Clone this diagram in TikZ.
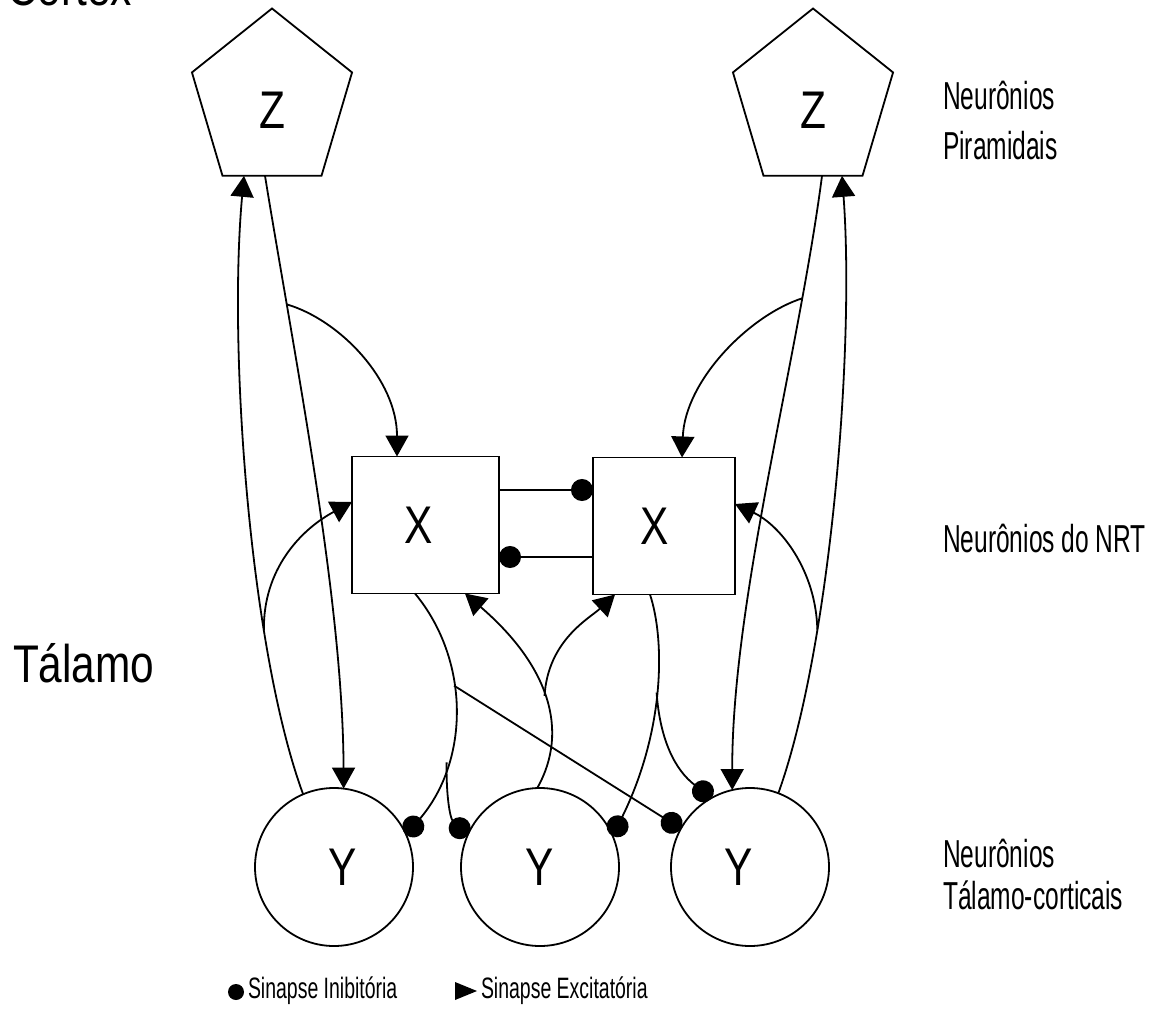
\documentclass[tikz,border=0pt]{standalone}
\usepackage{fontspec}
\setmainfont{Liberation Sans}
\newfontfamily\bigsans[FakeStretch=0.8]{Liberation Sans}
\newfontfamily\zsans[FakeStretch=0.88]{Liberation Sans}
\newfontfamily\narrowsans[FakeStretch=0.63]{Liberation Sans}
\newfontfamily\keysans[FakeStretch=0.66]{Liberation Sans}
\usetikzlibrary{arrows.meta,shapes.geometric,calc}

\begin{document}
\begin{tikzpicture}[x=1pt, y=-1pt, line width=1.8pt,
  every node/.style={inner sep=0pt, outer sep=0pt},
  pyr/.style={draw, regular polygon, regular polygon sides=5, minimum size=185pt,
    font=\zsans\fontsize{53}{60}\selectfont},
  nrt/.style={draw, rectangle, minimum height=137pt,
    font=\bigsans\fontsize{53}{60}\selectfont},
  tc/.style={draw, circle, minimum size=158pt,
    font=\bigsans\fontsize{53}{60}\selectfont},
  exc/.style={-{Triangle[length=21pt,width=23pt]}},
  inh/.style={-{Circle[length=22pt]}},
  lab/.style={anchor=base west, font=\narrowsans\fontsize{39}{50}\selectfont},
  big/.style={anchor=base west, font=\bigsans\fontsize{53}{60}\selectfont},
  key/.style={anchor=base west, font=\keysans\fontsize{29.5}{32}\selectfont}]

\useasboundingbox (0,0) rectangle (1156,1030);

% pyramidal neurons (cortex)
\begin{scope}[shift={(272,101)}, xscale=0.91]
  \node[pyr, transform shape] (ZL) at (0,0) {\raisebox{-9pt}[38pt][0pt]{Z}};
\end{scope}
\begin{scope}[shift={(813,101)}, xscale=0.91]
  \node[pyr, transform shape] (ZR) at (0,0) {\raisebox{-9pt}[38pt][0pt]{Z}};
\end{scope}

% NRT neurons
\node[nrt, minimum width=147pt] (XL) at (425.5,525) {\hspace*{-14pt}X};
\node[nrt, minimum width=142pt] (XR) at (664,526) {\hspace*{-18pt}X};

% thalamo-cortical neurons
\node[tc] (Yl) at (334,867) {\hspace*{18pt}Y};
\node[tc] (Ym) at (540,867) {Y};
\node[tc] (Yr) at (750,867) {\hspace*{-22pt}Y};

% side labels
\node[big] (lcortex) at (7,6) {Cortex};
\node[big] (ltalamo) at (13,682) {Tálamo};
\node[lab] (lpir) at (943,110) {\vtop{\hbox{Neurônios}\hbox{Piramidais}}};
\node[lab] (lnrt) at (943,552) {Neurônios do NRT};
\node[lab, font=\narrowsans\fontsize{39}{42}\selectfont] (ltc) at (943,867)
  {\vtop{\hbox{Neurônios}\hbox{Tálamo-corticais}}};

% left column
\draw[exc] (Yl.113) .. controls (250,650) and (228,350) .. ([xshift=-28pt]ZL.south)
  coordinate[pos=0.3] (bl1);
\draw[exc] (bl1) .. controls (263,570) and (300,530) .. ([yshift=23pt]XL.west);
\draw[exc] ([xshift=-7pt]ZL.south) .. controls (295,360) and (343,600) .. (Yl.83)
  coordinate[pos=0.22] (bl2);
\draw[exc] (bl2) .. controls (340,320) and (397,380) .. ([xshift=-28.5pt]XL.north);

% left NRT inhibition
\draw[inh] ([xshift=-10.5pt]XL.south) .. controls (470,660) and (470,760) .. (Yl.24)
  coordinate[pos=0.4] (bx1) coordinate[pos=0.7] (bx2);
\draw[inh] (bx2) .. controls (446,795) and (450,818) .. (Ym.157);
\draw[inh] (bx1) -- (Yr.151);

% middle thalamo-cortical excitation
\draw[exc] (Ym.92) .. controls (570,730) and (548,665) .. ([xshift=39.5pt]XL.south)
  coordinate[pos=0.5] (bm);
\draw[exc] (bm) .. controls (548,640) and (590,618) .. ([xshift=-49pt]XR.south);

% right NRT inhibition
\draw[inh] ([xshift=-14pt]XR.south) .. controls (665,640) and (665,730) .. (Ym.23)
  coordinate[pos=0.5] (bx3);
\draw[inh] (bx3) .. controls (660,740) and (675,770) .. (Yr.119);

% right column
\draw[exc] ([xshift=9pt]ZR.south) .. controls (798,360) and (732,600) .. (Yr.103)
  coordinate[pos=0.21] (br2);
\draw[exc] (br2) .. controls (750,315) and (685,380) .. ([xshift=18pt]XR.north);
\draw[exc] (Yr.69) .. controls (830,650) and (855,350) .. ([xshift=29pt]ZR.south)
  coordinate[pos=0.3] (br1);
\draw[exc] (br1) .. controls (816,570) and (780,525) .. ([yshift=22pt]XR.east);

% mutual NRT inhibition
\coordinate (h1) at ([yshift=35pt]XL.east);
\draw[inh] (h1) -- (h1 -| XR.west);
\coordinate (h2) at ([yshift=-31pt]XR.west);
\draw[inh] (h2) -- (h2 -| XL.east);

% legend
\node[circle, fill, minimum size=16pt] (kinh) at (236,992) {};
\node[key] (tinh) at (248,998) {Sinapse Inibitória};
\fill (455,982) -- (477,991) -- (455,1000) -- cycle;
\node[key] (texc) at (481,998) {Sinapse Excitatória};
\end{tikzpicture}
\end{document}
